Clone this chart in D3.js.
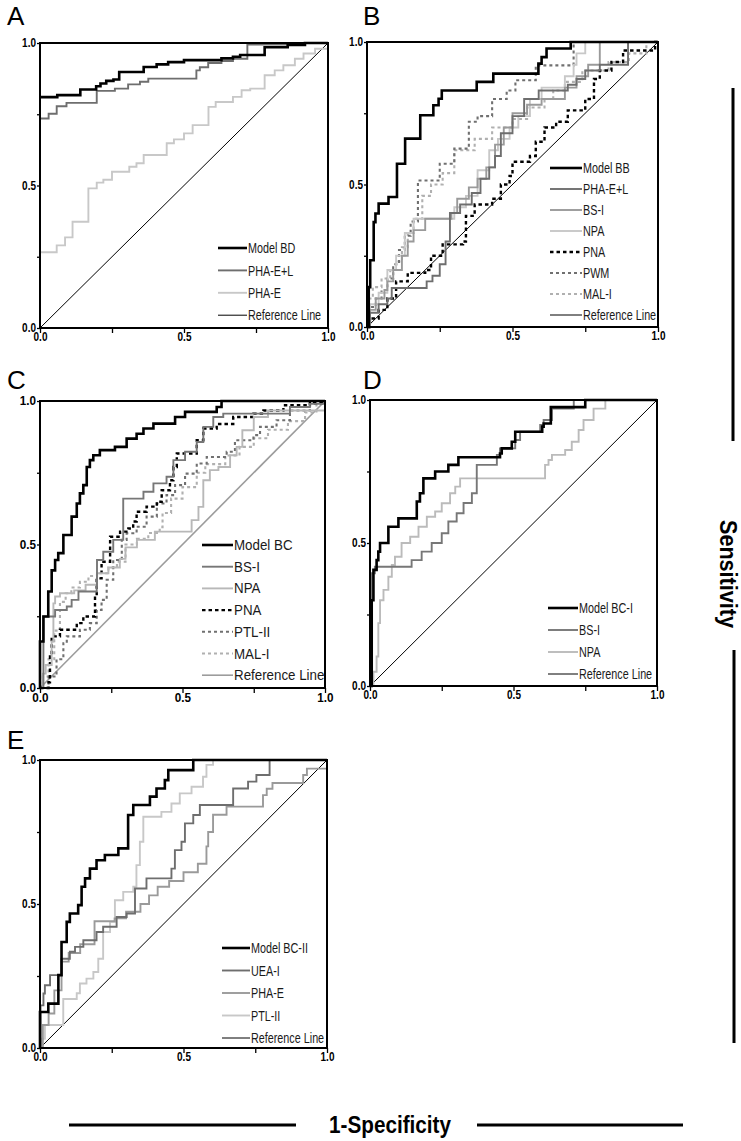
<!DOCTYPE html>
<html><head><meta charset="utf-8">
<script src="https://cdn.jsdelivr.net/npm/d3@7"></script>
<style>body{margin:0;background:#fff}svg{display:block}</style>
</head><body><svg id="c" width="741" height="1141"></svg>
<script>
// ---------- data ----------
const tickValues = [0, 0.25, 0.5, 0.75, 1];
const tickLabels = ["0.0", "", "0.5", "", "1.0"];
const refLine = [[0, 0], [1, 1]];

// Panel A
const A_ModelBD = [[0,0.81],[0.06,0.817],[0.14,0.837],[0.195,0.848],[0.21,0.858],[0.23,0.867],[0.255,0.872],[0.275,0.898],[0.36,0.916],[0.405,0.925],[0.445,0.933],[0.5,0.94],[0.63,0.946],[0.67,0.952],[0.695,0.958],[0.78,0.985],[0.86,0.993],[0.92,1],[1,1]];
const A_PHAEL = [[0,0.735],[0.03,0.752],[0.058,0.778],[0.092,0.79],[0.197,0.832],[0.26,0.84],[0.306,0.855],[0.347,0.864],[0.376,0.875],[0.543,0.904],[0.555,0.915],[0.584,0.93],[0.63,0.937],[0.67,0.945],[0.72,0.995],[0.86,1],[1,1]];
const A_PHAE = [[0,0.266],[0.058,0.29],[0.087,0.318],[0.113,0.373],[0.168,0.49],[0.197,0.51],[0.22,0.52],[0.25,0.548],[0.31,0.566],[0.335,0.578],[0.36,0.607],[0.44,0.648],[0.465,0.662],[0.5,0.683],[0.53,0.712],[0.585,0.776],[0.61,0.793],[0.67,0.811],[0.7,0.834],[0.73,0.84],[0.78,0.887],[0.815,0.904],[0.845,0.922],[0.885,0.945],[0.915,0.963],[0.955,0.98],[1,1]];

// Panel B
const B_ModelBB = [[0,0],[0.006,0.14],[0.011,0.234],[0.023,0.368],[0.029,0.398],[0.04,0.433],[0.074,0.456],[0.103,0.573],[0.131,0.661],[0.183,0.743],[0.228,0.778],[0.246,0.801],[0.257,0.83],[0.377,0.86],[0.434,0.889],[0.589,0.924],[0.6,0.947],[0.617,0.977],[0.7,1],[1,1]];
const B_PHAEL = [[0,0],[0.01,0.05],[0.04,0.08],[0.07,0.1],[0.085,0.137],[0.205,0.16],[0.225,0.18],[0.25,0.22],[0.27,0.3],[0.285,0.4],[0.32,0.43],[0.36,0.47],[0.39,0.52],[0.42,0.56],[0.44,0.6],[0.46,0.68],[0.5,0.74],[0.54,0.8],[0.59,0.83],[0.69,0.85],[0.72,0.87],[0.75,0.9],[0.8,0.92],[0.897,1],[1,1]];
const B_BSI = [[0,0],[0.01,0.06],[0.03,0.1],[0.06,0.13],[0.07,0.16],[0.09,0.2],[0.12,0.25],[0.14,0.3],[0.16,0.34],[0.2,0.38],[0.29,0.4],[0.31,0.45],[0.35,0.49],[0.38,0.52],[0.41,0.56],[0.44,0.64],[0.47,0.7],[0.5,0.75],[0.55,0.78],[0.6,0.8],[0.68,0.84],[0.72,0.88],[0.76,0.92],[0.8,1],[1,1]];
const B_NPA = [[0,0],[0.01,0.08],[0.04,0.12],[0.07,0.2],[0.1,0.25],[0.13,0.33],[0.16,0.38],[0.3,0.42],[0.34,0.46],[0.38,0.55],[0.42,0.62],[0.45,0.66],[0.49,0.7],[0.52,0.74],[0.56,0.8],[0.6,0.84],[0.68,0.88],[0.71,0.92],[0.72,0.96],[0.75,1],[1,1]];
const B_PNA = [[0,0],[0.01,0.03],[0.04,0.06],[0.07,0.1],[0.1,0.16],[0.14,0.19],[0.2,0.2],[0.22,0.25],[0.26,0.29],[0.33,0.3],[0.34,0.39],[0.37,0.43],[0.43,0.45],[0.46,0.5],[0.49,0.53],[0.5,0.58],[0.56,0.6],[0.58,0.65],[0.61,0.7],[0.65,0.72],[0.69,0.76],[0.75,0.8],[0.78,0.87],[0.8,0.9],[0.84,0.93],[0.88,0.97],[0.96,0.97],[0.99,1],[1,1]];
const B_PWM = [[0,0],[0.01,0.07],[0.03,0.1],[0.05,0.13],[0.07,0.17],[0.09,0.22],[0.11,0.27],[0.13,0.32],[0.15,0.37],[0.175,0.514],[0.25,0.573],[0.3,0.626],[0.35,0.72],[0.38,0.74],[0.43,0.8],[0.48,0.83],[0.51,0.866],[0.58,0.918],[0.71,1],[1,1]];
const B_MALI = [[0,0],[0.005,0.1],[0.02,0.14],[0.05,0.17],[0.08,0.2],[0.1,0.23],[0.12,0.28],[0.14,0.33],[0.16,0.38],[0.19,0.46],[0.22,0.5],[0.26,0.54],[0.3,0.62],[0.37,0.66],[0.43,0.7],[0.5,0.73],[0.55,0.77],[0.61,0.8],[0.64,0.83],[0.68,0.86],[0.74,0.9],[0.83,0.93],[0.9,0.96],[0.96,1],[1,1]];

// Panel C
const C_ModelBC = [[0,0],[0,0.162],[0.012,0.249],[0.029,0.336],[0.041,0.41],[0.053,0.446],[0.064,0.47],[0.082,0.533],[0.111,0.597],[0.129,0.643],[0.14,0.678],[0.152,0.707],[0.164,0.77],[0.175,0.794],[0.187,0.811],[0.21,0.829],[0.263,0.84],[0.304,0.869],[0.339,0.886],[0.363,0.904],[0.398,0.921],[0.474,0.944],[0.509,0.962],[0.62,0.979],[0.637,1],[1,1]];
const C_BSI = [[0,0],[0.012,0.249],[0.053,0.272],[0.094,0.284],[0.111,0.307],[0.135,0.336],[0.199,0.353],[0.2,0.446],[0.222,0.475],[0.257,0.516],[0.292,0.66],[0.363,0.684],[0.398,0.713],[0.444,0.736],[0.468,0.794],[0.509,0.823],[0.55,0.857],[0.573,0.91],[0.608,0.944],[0.643,0.956],[0.877,0.979],[0.947,0.99],[1,1]];
const C_NPA = [[0,0],[0.01,0.05],[0.02,0.08],[0.041,0.162],[0.047,0.295],[0.053,0.319],[0.07,0.33],[0.12,0.34],[0.16,0.36],[0.2,0.4],[0.24,0.42],[0.28,0.45],[0.3,0.49],[0.34,0.516],[0.403,0.545],[0.532,0.585],[0.556,0.631],[0.573,0.724],[0.596,0.759],[0.626,0.77],[0.667,0.811],[0.69,0.84],[0.71,0.898],[0.75,0.944],[0.8,0.967],[1,1]];
const C_PNA = [[0,0],[0.03,0.02],[0.035,0.11],[0.041,0.18],[0.07,0.203],[0.129,0.226],[0.152,0.249],[0.193,0.319],[0.199,0.382],[0.216,0.44],[0.246,0.527],[0.281,0.545],[0.31,0.556],[0.327,0.58],[0.339,0.614],[0.374,0.632],[0.41,0.649],[0.427,0.689],[0.456,0.724],[0.468,0.77],[0.48,0.817],[0.55,0.863],[0.573,0.904],[0.62,0.92],[0.678,0.944],[0.749,0.956],[0.784,0.967],[0.854,0.985],[0.947,0.997],[1,1]];
const C_PTLII = [[0,0],[0.03,0.04],[0.058,0.1],[0.082,0.156],[0.094,0.18],[0.14,0.203],[0.175,0.226],[0.199,0.272],[0.216,0.307],[0.234,0.377],[0.257,0.446],[0.287,0.516],[0.304,0.539],[0.339,0.562],[0.374,0.597],[0.41,0.643],[0.444,0.672],[0.474,0.707],[0.509,0.747],[0.55,0.782],[0.585,0.805],[0.655,0.823],[0.684,0.863],[0.749,0.881],[0.772,0.91],[0.83,0.933],[0.877,0.967],[0.947,0.99],[1,1]];
const C_MALI = [[0,0],[0.01,0.04],[0.03,0.1],[0.05,0.2],[0.07,0.3],[0.09,0.33],[0.11,0.35],[0.14,0.37],[0.17,0.39],[0.2,0.4],[0.24,0.42],[0.27,0.44],[0.3,0.5],[0.34,0.52],[0.38,0.54],[0.42,0.56],[0.43,0.61],[0.46,0.66],[0.5,0.7],[0.55,0.75],[0.58,0.78],[0.65,0.81],[0.7,0.84],[0.75,0.87],[0.8,0.9],[0.87,0.93],[0.93,0.96],[0.97,1],[1,1]];

// Panel D
const D_ModelBCI = [[0,0],[0.006,0.3],[0.012,0.406],[0.023,0.44],[0.029,0.47],[0.035,0.5],[0.064,0.557],[0.099,0.586],[0.163,0.645],[0.174,0.674],[0.186,0.726],[0.227,0.75],[0.273,0.773],[0.308,0.8],[0.453,0.813],[0.459,0.831],[0.494,0.854],[0.506,0.889],[0.6,0.907],[0.605,0.918],[0.63,0.975],[0.75,1],[1,1]];
const D_BSI = [[0,0],[0.006,0.394],[0.017,0.417],[0.145,0.44],[0.18,0.47],[0.215,0.5],[0.25,0.534],[0.273,0.575],[0.302,0.604],[0.326,0.64],[0.355,0.674],[0.372,0.773],[0.442,0.808],[0.453,0.831],[0.506,0.86],[0.523,0.889],[0.593,0.913],[0.605,0.93],[0.634,0.97],[0.71,1],[1,1]];
const D_NPA = [[0,0],[0.012,0.05],[0.023,0.103],[0.029,0.22],[0.035,0.3],[0.047,0.336],[0.064,0.382],[0.076,0.423],[0.087,0.452],[0.11,0.5],[0.14,0.522],[0.169,0.557],[0.198,0.592],[0.227,0.61],[0.25,0.639],[0.279,0.674],[0.297,0.697],[0.314,0.726],[0.61,0.773],[0.622,0.79],[0.634,0.808],[0.68,0.825],[0.703,0.854],[0.727,0.895],[0.744,0.93],[0.779,0.97],[0.82,1],[1,1]];

// Panel E
const E_ModelBCII = [[0,0],[0,0.125],[0.029,0.154],[0.064,0.253],[0.075,0.368],[0.093,0.438],[0.104,0.467],[0.133,0.496],[0.145,0.56],[0.157,0.589],[0.174,0.623],[0.197,0.652],[0.226,0.67],[0.273,0.693],[0.307,0.809],[0.325,0.844],[0.383,0.873],[0.406,0.901],[0.435,0.93],[0.447,0.965],[0.534,1],[1,1]];
const E_UEAI = [[0,0],[0.002,0.148],[0.012,0.189],[0.017,0.218],[0.035,0.253],[0.075,0.31],[0.104,0.334],[0.122,0.351],[0.151,0.374],[0.197,0.403],[0.22,0.421],[0.267,0.455],[0.302,0.467],[0.331,0.554],[0.371,0.589],[0.458,0.623],[0.47,0.687],[0.493,0.716],[0.505,0.78],[0.534,0.809],[0.557,0.844],[0.673,0.901],[0.725,0.925],[0.754,0.948],[0.8,1],[1,1]];
const E_PHAE = [[0,0],[0.01,0.08],[0.03,0.12],[0.05,0.2],[0.075,0.3],[0.1,0.33],[0.14,0.36],[0.19,0.44],[0.26,0.45],[0.3,0.473],[0.35,0.5],[0.38,0.53],[0.41,0.56],[0.45,0.58],[0.5,0.61],[0.55,0.64],[0.58,0.7],[0.586,0.75],[0.603,0.81],[0.65,0.838],[0.777,0.878],[0.79,0.9],[0.81,0.92],[0.917,0.948],[0.93,0.97],[1,1]];
const E_PTLII = [[0,0],[0.005,0.032],[0.017,0.08],[0.081,0.17],[0.128,0.19],[0.139,0.224],[0.162,0.241],[0.186,0.264],[0.203,0.31],[0.22,0.403],[0.244,0.438],[0.261,0.513],[0.29,0.542],[0.325,0.56],[0.336,0.635],[0.348,0.716],[0.36,0.803],[0.423,0.82],[0.458,0.849],[0.487,0.884],[0.528,0.907],[0.568,0.942],[0.58,0.983],[0.603,1],[1,1]];

// ---------- styles ----------
const st = {
  model: {color:"#000", w:2.6},
  dark:  {color:"#6e6e6e", w:1.9},
  mid:   {color:"#9a9a9a", w:1.9},
  light: {color:"#c8c8c8", w:1.9},
  blackDash: {color:"#000", w:2.4, dash:"3.5,3"},
  darkDash:  {color:"#707070", w:2.1, dash:"3,3"},
  lightDash: {color:"#b0b0b0", w:2.1, dash:"3,3"},
  ref:   {color:"#000", w:1},
  refGray: {color:"#9c9c9c", w:1.6}
};
const FONT = "'Liberation Sans',Arial,sans-serif";

const panels = [
  {letter:"A", lp:[7,25], box:[40,43,328,328], tickSize:12.5, tickSx:0.8, legSize:15, legSx:0.72,
   leg:{x:218,len:29,y:248,dy:22.4},
   series:[["Model BD",A_ModelBD,st.model],["PHA-E+L",A_PHAEL,st.dark],["PHA-E",A_PHAE,st.light]], ref:st.ref},
  {letter:"B", lp:[363,25], box:[367,42,658,327], tickSize:12.5, tickSx:0.8, legSize:15, legSx:0.72,
   leg:{x:550,len:32,y:168,dy:21},
   series:[["Model BB",B_ModelBB,st.model],["PHA-E+L",B_PHAEL,st.dark],["BS-I",B_BSI,st.mid],["NPA",B_NPA,st.light],
           ["PNA",B_PNA,st.blackDash],["PWM",B_PWM,st.darkDash],["MAL-I",B_MALI,st.lightDash]], ref:st.ref},
  {letter:"C", lp:[7,389], box:[40,401,325,688], tickSize:13, tickSx:0.9, legSize:14.5, legSx:0.92,
   leg:{x:202,len:31,y:545,dy:21.7},
   series:[["Model BC",C_ModelBC,st.model],["BS-I",C_BSI,{color:"#777",w:1.9}],["NPA",C_NPA,{color:"#b8b8b8",w:1.9}],
           ["PNA",C_PNA,st.blackDash],["PTL-II",C_PTLII,st.darkDash],["MAL-I",C_MALI,st.lightDash]], ref:st.refGray},
  {letter:"D", lp:[363,389], box:[370,400,657,686], tickSize:12.5, tickSx:0.8, legSize:15, legSx:0.72,
   leg:{x:548,len:30,y:608,dy:22},
   series:[["Model BC-I",D_ModelBCI,st.model],["BS-I",D_BSI,{color:"#777",w:1.9}],["NPA",D_NPA,{color:"#bbb",w:1.9}]], ref:st.ref},
  {letter:"E", lp:[7,749], box:[40,760,327,1048], tickSize:12.5, tickSx:0.8, legSize:15, legSx:0.72,
   leg:{x:222,len:28,y:948,dy:22.5},
   series:[["Model BC-II",E_ModelBCII,st.model],["UEA-I",E_UEAI,st.dark],["PHA-E",E_PHAE,st.mid],["PTL-II",E_PTLII,st.light]], ref:st.ref}
];

const svg = d3.select("#c");

// condensed text helper: text drawn at (x,y) with horizontal scale sx
function ctext(parent, x, y, str, size, sx, opts) {
  opts = opts || {};
  return parent.append("text")
    .attr("transform", `translate(${x},${y}) scale(${sx},1)`)
    .attr("font-family", FONT).attr("font-size", size).attr("fill", opts.fill || "#000")
    .attr("font-weight", opts.weight || "normal")
    .attr("text-anchor", opts.anchor || "start")
    .attr("dy", opts.dy || "0.35em").text(str);
}

panels.forEach(p => {
  const [x0,y0,x1,y1] = p.box;
  const x = d3.scaleLinear().domain([0,1]).range([x0,x1]);
  const y = d3.scaleLinear().domain([0,1]).range([y1,y0]);
  const g = svg.append("g");

  // panel letter
  svg.append("text").attr("x",p.lp[0]).attr("y",p.lp[1]).text(p.letter)
    .attr("font-family",FONT).attr("font-size",26).attr("fill","#000");

  // axes
  const fmt = d => tickLabels[tickValues.indexOf(d)];
  const ax = g.append("g").attr("transform",`translate(0,${y1})`)
    .call(d3.axisBottom(x).tickValues(tickValues).tickFormat(fmt).tickSize(5).tickSizeOuter(0).tickPadding(4));
  const ay = g.append("g").attr("transform",`translate(${x0},0)`)
    .call(d3.axisLeft(y).tickValues(tickValues).tickFormat(fmt).tickSize(3).tickSizeOuter(0).tickPadding(2));
  [ax,ay].forEach(a => {
    a.select(".domain").remove();
    a.selectAll(".tick line").attr("stroke","#000").attr("stroke-width",1.3);
    a.selectAll("text").attr("font-family",FONT).attr("font-size",p.tickSize)
      .attr("font-weight","bold").attr("fill","#000");
  });
  ax.selectAll(".tick text").attr("transform",`translate(0,9) scale(${p.tickSx},1)`).attr("y",0).attr("dy","0.35em");
  ay.selectAll(".tick text").attr("dy","0.3em")
    .attr("transform",`translate(-4,0) scale(${p.tickSx},1)`).attr("x",0);

  const line = d3.line().x(d=>x(d[0])).y(d=>y(d[1])).curve(d3.curveStepAfter);
  const lin = d3.line().x(d=>x(d[0])).y(d=>y(d[1]));

  // reference diagonal
  g.append("path").attr("d",lin(refLine)).attr("fill","none")
    .attr("stroke",p.ref.color).attr("stroke-width",p.ref.w);

  // series, lighter first so the model line sits on top
  p.series.slice().reverse().forEach(([name,data,s]) => {
    g.append("path").attr("d",line(data)).attr("fill","none")
      .attr("stroke",s.color).attr("stroke-width",s.w)
      .attr("stroke-dasharray",s.dash||null);
  });

  // frame
  g.append("rect").attr("x",x0).attr("y",y0).attr("width",x1-x0).attr("height",y1-y0)
    .attr("fill","none").attr("stroke","#000").attr("stroke-width",2);

  // legend
  const items = p.series.map(d=>[d[0],d[2]]).concat([["Reference Line",p.ref]]);
  items.forEach(([name,s],i) => {
    const yy = p.leg.y + i*p.leg.dy;
    g.append("line").attr("x1",p.leg.x).attr("x2",p.leg.x+p.leg.len).attr("y1",yy).attr("y2",yy)
      .attr("stroke",s.color).attr("stroke-width",s.w).attr("stroke-dasharray",s.dash||null);
    ctext(g, p.leg.x+p.leg.len+1, yy, name, p.legSize, p.legSx, {fill:"#1a1a1a"});
  });
});

// global axis titles with bars
svg.append("line").attr("x1",733).attr("x2",733).attr("y1",88).attr("y2",441).attr("stroke","#000").attr("stroke-width",3);
svg.append("line").attr("x1",734).attr("x2",734).attr("y1",650).attr("y2",1043).attr("stroke","#000").attr("stroke-width",3);
svg.append("text").attr("transform","translate(720,574) rotate(90) scale(0.9,1)").attr("text-anchor","middle")
  .attr("font-family",FONT).attr("font-weight","bold").attr("font-size",24).text("Sensitivity");
svg.append("line").attr("x1",69).attr("x2",296).attr("y1",1125).attr("y2",1125).attr("stroke","#000").attr("stroke-width",3);
svg.append("line").attr("x1",477).attr("x2",683).attr("y1",1125).attr("y2",1125).attr("stroke","#000").attr("stroke-width",3);
svg.append("text").attr("transform","translate(390,1125) scale(0.9,1)").attr("dy","0.35em").attr("text-anchor","middle")
  .attr("font-family",FONT).attr("font-weight","bold").attr("font-size",23).text("1-Specificity");
</script></body></html>
